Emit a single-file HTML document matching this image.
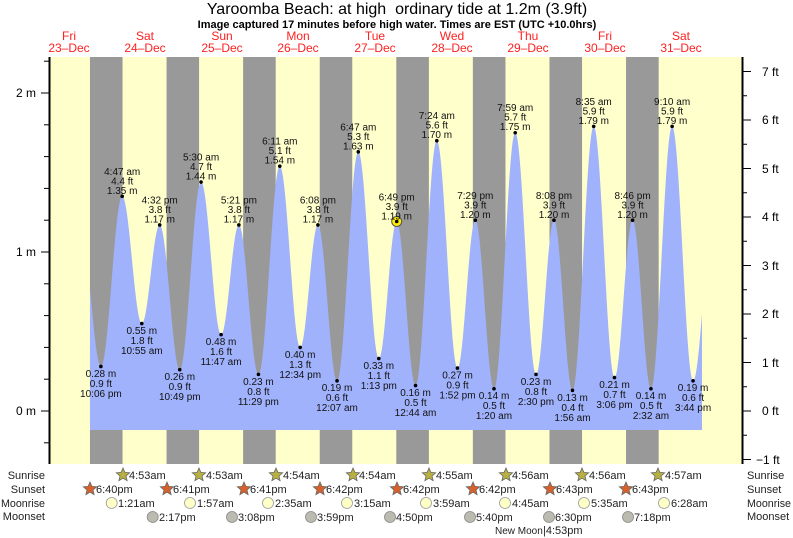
<!DOCTYPE html>
<html><head><meta charset="utf-8"><style>
html,body{margin:0;padding:0;background:#fff;}
svg{display:block;font-family:"Liberation Sans",sans-serif;}
</style></head><body>
<svg id="s" width="793" height="538" viewBox="0 0 793 538" xmlns="http://www.w3.org/2000/svg">
<rect x="50" y="57" width="692" height="407" fill="#ffffcc"/>
<g id="night" fill="#999999"></g>
<path id="tide" fill="#a0b2fb" d=""/>
<g id="ticks" stroke="#000" stroke-width="1"></g>
<line x1="49.5" y1="57" x2="49.5" y2="464" stroke="#000" stroke-width="2"/>
<line x1="742.5" y1="57" x2="742.5" y2="464" stroke="#000" stroke-width="2"/>
<text x="397" y="14" font-size="16" text-anchor="middle">Yaroomba Beach: at high&#160; ordinary tide at 1.2m (3.9ft)</text>
<text x="397" y="28" font-size="11" font-weight="bold" text-anchor="middle">Image captured 17 minutes before high water. Times are EST (UTC +10.0hrs)</text>
<g font-size="12" fill="#ff2020" text-anchor="middle">
<text x="69" y="40">Fri</text><text x="69" y="52">23–Dec</text>
<text x="145" y="40">Sat</text><text x="145" y="52">24–Dec</text>
<text x="222" y="40">Sun</text><text x="222" y="52">25–Dec</text>
<text x="298" y="40">Mon</text><text x="298" y="52">26–Dec</text>
<text x="375" y="40">Tue</text><text x="375" y="52">27–Dec</text>
<text x="452" y="40">Wed</text><text x="452" y="52">28–Dec</text>
<text x="528" y="40">Thu</text><text x="528" y="52">29–Dec</text>
<text x="605" y="40">Fri</text><text x="605" y="52">30–Dec</text>
<text x="681" y="40">Sat</text><text x="681" y="52">31–Dec</text>
</g>
<g font-size="12" text-anchor="end">
<text x="36" y="97">2 m</text><text x="36" y="256">1 m</text><text x="36" y="415">0 m</text>
</g>
<g font-size="12">
<text x="762" y="76">7 ft</text><text x="762" y="124">6 ft</text><text x="762" y="173">5 ft</text>
<text x="762" y="221">4 ft</text><text x="762" y="270">3 ft</text><text x="762" y="318">2 ft</text>
<text x="762" y="367">1 ft</text><text x="762" y="415">0 ft</text><text x="756" y="464">−1 ft</text>
</g>
<g id="dots" fill="#000"></g>
<circle cx="396.7" cy="221.5" r="5" fill="#ffee00" stroke="#555" stroke-width="1"/>
<circle cx="396.7" cy="221.5" r="1.8" fill="#000"/>
<g font-size="10" text-anchor="middle" fill="#111">
<text x="122.2" y="175">4:47 am</text><text x="122.2" y="184.5">4.4 ft</text><text x="122.2" y="194">1.35 m</text>
<text x="159.7" y="203.5">4:32 pm</text><text x="159.7" y="213">3.8 ft</text><text x="159.7" y="222.5">1.17 m</text>
<text x="201.1" y="160.5">5:30 am</text><text x="201.1" y="170">4.7 ft</text><text x="201.1" y="179.5">1.44 m</text>
<text x="238.9" y="203.5">5:21 pm</text><text x="238.9" y="213">3.8 ft</text><text x="238.9" y="222.5">1.17 m</text>
<text x="279.8" y="144.5">6:11 am</text><text x="279.8" y="154">5.1 ft</text><text x="279.8" y="163.5">1.54 m</text>
<text x="317.9" y="203.5">6:08 pm</text><text x="317.9" y="213">3.8 ft</text><text x="317.9" y="222.5">1.17 m</text>
<text x="358.3" y="130.5">6:47 am</text><text x="358.3" y="140">5.3 ft</text><text x="358.3" y="149.5">1.63 m</text>
<text x="396.7" y="200.5">6:49 pm</text><text x="396.7" y="210">3.9 ft</text><text x="396.7" y="219.5">1.19 m</text>
<text x="436.8" y="119">7:24 am</text><text x="436.8" y="128.5">5.6 ft</text><text x="436.8" y="138">1.70 m</text>
<text x="475.3" y="199">7:29 pm</text><text x="475.3" y="208.5">3.9 ft</text><text x="475.3" y="218">1.20 m</text>
<text x="515.2" y="111">7:59 am</text><text x="515.2" y="120.5">5.7 ft</text><text x="515.2" y="130">1.75 m</text>
<text x="554" y="199">8:08 pm</text><text x="554" y="208.5">3.9 ft</text><text x="554" y="218">1.20 m</text>
<text x="593.7" y="105">8:35 am</text><text x="593.7" y="114.5">5.9 ft</text><text x="593.7" y="124">1.79 m</text>
<text x="632.6" y="199">8:46 pm</text><text x="632.6" y="208.5">3.9 ft</text><text x="632.6" y="218">1.20 m</text>
<text x="672.1" y="105">9:10 am</text><text x="672.1" y="114.5">5.9 ft</text><text x="672.1" y="124">1.79 m</text>

<text x="100.9" y="377">0.28 m</text><text x="100.9" y="387">0.9 ft</text><text x="100.9" y="397">10:06 pm</text>
<text x="141.8" y="334">0.55 m</text><text x="141.8" y="344">1.8 ft</text><text x="141.8" y="354">10:55 am</text>
<text x="179.8" y="380">0.26 m</text><text x="179.8" y="390">0.9 ft</text><text x="179.8" y="400">10:49 pm</text>
<text x="221.1" y="345">0.48 m</text><text x="221.1" y="355">1.6 ft</text><text x="221.1" y="365">11:47 am</text>
<text x="258.4" y="385">0.23 m</text><text x="258.4" y="395">0.8 ft</text><text x="258.4" y="405">11:29 pm</text>
<text x="300.2" y="358">0.40 m</text><text x="300.2" y="368">1.3 ft</text><text x="300.2" y="378">12:34 pm</text>
<text x="337" y="391">0.19 m</text><text x="337" y="401">0.6 ft</text><text x="337" y="411">12:07 am</text>
<text x="378.8" y="369">0.33 m</text><text x="378.8" y="379">1.1 ft</text><text x="378.8" y="389">1:13 pm</text>
<text x="415.5" y="396">0.16 m</text><text x="415.5" y="406">0.5 ft</text><text x="415.5" y="416">12:44 am</text>
<text x="457.5" y="378.5">0.27 m</text><text x="457.5" y="388.5">0.9 ft</text><text x="457.5" y="398.5">1:52 pm</text>
<text x="494" y="399">0.14 m</text><text x="494" y="409">0.5 ft</text><text x="494" y="419">1:20 am</text>
<text x="536" y="385">0.23 m</text><text x="536" y="395">0.8 ft</text><text x="536" y="405">2:30 pm</text>
<text x="572.5" y="401">0.13 m</text><text x="572.5" y="411">0.4 ft</text><text x="572.5" y="421">1:56 am</text>
<text x="614.5" y="388">0.21 m</text><text x="614.5" y="398">0.7 ft</text><text x="614.5" y="408">3:06 pm</text>
<text x="651" y="399">0.14 m</text><text x="651" y="409">0.5 ft</text><text x="651" y="419">2:32 am</text>
<text x="693.1" y="391">0.19 m</text><text x="693.1" y="401">0.6 ft</text><text x="693.1" y="411">3:44 pm</text>
</g>
<g font-size="11" text-anchor="end" fill="#222">
<text x="45" y="479">Sunrise</text><text x="45" y="493">Sunset</text><text x="45" y="507" textLength="44" lengthAdjust="spacingAndGlyphs">Moonrise</text><text x="45" y="520">Moonset</text>
</g>
<g font-size="11" fill="#222">
<text x="747" y="479">Sunrise</text><text x="747" y="493">Sunset</text><text x="747" y="507" textLength="44" lengthAdjust="spacingAndGlyphs">Moonrise</text><text x="747" y="520">Moonset</text>
</g>
<g id="icons"></g>
<g font-size="11" fill="#222">
<text x="129" y="479">4:53am</text><text x="206" y="479">4:53am</text><text x="283" y="479">4:54am</text><text x="359" y="479">4:54am</text>
<text x="436" y="479">4:55am</text><text x="512" y="479">4:56am</text><text x="589" y="479">4:56am</text><text x="665" y="479">4:57am</text>
<text x="96" y="493">6:40pm</text><text x="173" y="493">6:41pm</text><text x="250" y="493">6:41pm</text><text x="326" y="493">6:42pm</text>
<text x="403" y="493">6:42pm</text><text x="479" y="493">6:42pm</text><text x="556" y="493">6:43pm</text><text x="632" y="493">6:43pm</text>
<text x="118" y="507">1:21am</text><text x="197" y="507">1:57am</text><text x="275" y="507">2:35am</text><text x="354" y="507">3:15am</text>
<text x="433" y="507">3:59am</text><text x="512" y="507">4:45am</text><text x="591" y="507">5:35am</text><text x="671" y="507">6:28am</text>
<text x="159" y="521">2:17pm</text><text x="238" y="521">3:08pm</text><text x="317" y="521">3:59pm</text><text x="396" y="521">4:50pm</text>
<text x="476" y="521">5:40pm</text><text x="555" y="521">6:30pm</text><text x="634" y="521">7:18pm</text>
<text x="495" y="534" font-size="10">New Moon</text><text x="543" y="534">|4:53pm</text>
</g>
</svg>
<script>
(function(){
var NS="http://www.w3.org/2000/svg";
function X(h){return 30.4+h*3.19;}
function Y(m){return 411-m*159;}
function el(p,t,a){var e=document.createElementNS(NS,t);for(var k in a)e.setAttribute(k,a[k]);p.appendChild(e);return e;}
var night=document.getElementById('night');
var ss=[18.67,42.68,66.68,90.7,114.7,138.7,162.72,186.72];
var sr=[28.88,52.88,76.9,100.9,124.92,148.93,172.93,196.95];
for(var i=0;i<8;i++){el(night,'rect',{x:X(ss[i]),y:57,width:X(sr[i])-X(ss[i]),height:407});}
var ex=[[16,1.1],[22.1,0.28],[28.78,1.35],[34.92,0.55],[40.53,1.17],[46.82,0.26],[53.5,1.44],[59.78,0.48],[65.35,1.17],[71.48,0.23],[78.18,1.54],[84.57,0.40],[90.13,1.17],[96.12,0.19],[102.78,1.63],[109.22,0.33],[114.82,1.19],[120.73,0.16],[127.4,1.70],[133.87,0.27],[139.48,1.20],[145.33,0.14],[151.98,1.75],[158.5,0.23],[164.13,1.20],[169.93,0.13],[176.58,1.79],[183.1,0.21],[188.77,1.20],[194.53,0.14],[201.17,1.79],[207.73,0.19],[214,1.2]];
function H(h){for(var i=0;i<ex.length-1;i++){var a=ex[i],b=ex[i+1];if(h>=a[0]&&h<=b[0]){var f=(h-a[0])/(b[0]-a[0]);return a[1]+(b[1]-a[1])*(1-Math.cos(Math.PI*f))/2;}}return 0.5;}
var x0=90,x1=702,d="M"+x0+",430";
for(var x=x0;x<=x1;x+=0.5){var h=(x-30.4)/3.19;d+=" L"+x+","+Y(H(h)).toFixed(2);}
d+=" L"+x1+",430 Z";
document.getElementById('tide').setAttribute('d',d);
var dots=document.getElementById('dots');
for(var i=1;i<ex.length-1;i++){if(i==16)continue;el(dots,'circle',{cx:X(ex[i][0]),cy:Y(ex[i][1]),r:1.8});}
var tk=document.getElementById('ticks');
for(var m=-0.2;m<=2.5;m+=0.2){var y=Y(m);if(y<57||y>464)continue;var maj=Math.abs(m-Math.round(m))<0.01;el(tk,'line',{x1:maj?41:44,x2:49,y1:y,y2:y});}
for(var f=-1;f<=8;f+=0.5){var y=411-f*48.5;if(y<57||y>464)continue;var maj=Math.abs(f-Math.round(f))<0.01;el(tk,'line',{x1:743,x2:maj?751:747,y1:y,y2:y});}
var ic=document.getElementById('icons');
function star(cx,cy,fill){var p="";for(var k=0;k<10;k++){var r=k%2?3.2:7;var a=-Math.PI/2+k*Math.PI/5;p+=(cx+r*Math.cos(a)).toFixed(1)+","+(cy+r*Math.sin(a)).toFixed(1)+" ";}el(ic,'polygon',{points:p,fill:fill,stroke:'#666','stroke-width':0.8});}
var srx=[123,199,276,353,429,506,582,658];for(var i=0;i<8;i++)star(srx[i],475,'#b8b040');
var ssx=[90,167,244,320,397,473,550,626];for(var i=0;i<8;i++)star(ssx[i],489,'#d8602a');
var mr=[111.7,190,268,347,426,505,584,664];for(var i=0;i<8;i++)el(ic,'circle',{cx:mr[i],cy:503,r:5.5,fill:'#ffffc8',stroke:'#999','stroke-width':0.8});
var ms=[152.7,232,311,390,470,549,628];for(var i=0;i<7;i++)el(ic,'circle',{cx:ms[i],cy:517,r:5.5,fill:'#bbbbb0',stroke:'#888','stroke-width':0.8});
})();
</script>
</body></html>
